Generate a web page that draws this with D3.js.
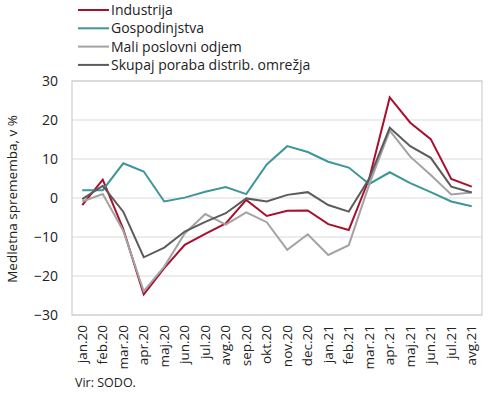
<!DOCTYPE html>
<html><head><meta charset="utf-8">
<script src="https://cdn.jsdelivr.net/npm/d3@7"></script>
<style>body{margin:0;background:#fff}svg{display:block}text{font-family:"Open Sans",sans-serif;fill:#222}</style>
</head><body>
<svg id="c" width="490" height="396"></svg>
<script>
const categories = ["jan.20","feb.20","mar.20","apr.20","maj.20","jun.20","jul.20","avg.20","sep.20","okt.20","nov.20","dec.20","jan.21","feb.21","mar.21","apr.21","maj.21","jun.21","jul.21","avg.21"];
const industrija    = [-1.8, 4.7, -8.0, -24.7, -18.0, -12.0, -9.2, -6.5, -0.5, -4.6, -3.3, -3.2, -6.7, -8.2, 5.0, 25.8, 19.3, 15.1, 4.9, 2.9];
const gospodinjstva = [2.0, 2.0, 8.9, 6.8, -0.9, 0.1, 1.6, 2.8, 1.0, 8.6, 13.3, 11.8, 9.3, 7.8, 3.6, 6.6, 3.8, 1.5, -0.9, -2.1];
const maliOdjem     = [-0.9, 1.0, -8.4, -23.9, -17.6, -9.1, -4.1, -6.8, -3.7, -6.2, -13.3, -9.3, -14.6, -12.1, 3.5, 17.3, 10.6, 5.9, 0.9, 1.4];
const skupaj        = [-0.3, 3.1, -3.5, -15.2, -12.7, -8.6, -6.1, -3.9, -0.1, -0.9, 0.8, 1.5, -1.8, -3.5, 5.0, 18.0, 13.3, 10.3, 2.9, 1.4];
const yTicks = [-30, -20, -10, 0, 10, 20, 30];
const seriesNames = ["Industrija", "Gospodinjstva", "Mali poslovni odjem", "Skupaj poraba distrib. omrežja"];
const seriesColors = ["#a8102f", "#3d9698", "#a3a3a3", "#5b5b5b"];
const seriesValues = [industrija, gospodinjstva, maliOdjem, skupaj];

const svg = d3.select("#c");
const L = 72, R = 482, T = 81, B = 315;
const x = d3.scaleBand().domain(categories).range([L, R]);
const y = d3.scaleLinear().domain([-30, 30]).range([B, T]);

svg.append("g").selectAll("line").data(yTicks).join("line")
  .attr("x1", L).attr("x2", R).attr("y1", d => y(d)).attr("y2", d => y(d))
  .attr("stroke", "#d9d9d9").attr("stroke-width", 1.2);
svg.append("rect").attr("x", L).attr("y", T).attr("width", R - L).attr("height", B - T)
  .attr("fill", "none").attr("stroke", "#cfcfcf").attr("stroke-width", 1.2);

const ya = svg.append("g").attr("transform", `translate(${L},0)`)
  .call(d3.axisLeft(y).tickValues(yTicks).tickSize(0).tickPadding(14));
ya.select(".domain").remove();
ya.selectAll("text").style("font-size", "14px").style("font-family", '"Open Sans",sans-serif').attr("fill", "#222");

const xa = svg.append("g").attr("transform", `translate(0,${B})`)
  .call(d3.axisBottom(x).tickSize(0));
xa.select(".domain").remove();
xa.selectAll("text").style("font-size", "13.5px").style("font-family", '"Open Sans",sans-serif').attr("fill", "#222")
  .attr("text-anchor", "end").attr("transform", "rotate(-90)").attr("x", -10).attr("y", 0).attr("dy", "0.35em");

svg.append("text").attr("transform", `translate(17,${(T + B) / 2 + 1}) rotate(-90)`)
  .attr("text-anchor", "middle").style("font-size", "13.5px").text("Medletna sprememba, v %");

const line = d3.line().x((d, i) => x(categories[i]) + x.bandwidth() / 2).y(d => y(d));
seriesValues.forEach((vals, k) => {
  svg.append("path").datum(vals).attr("d", line).attr("fill", "none")
    .attr("stroke", seriesColors[k]).attr("stroke-width", 2).attr("stroke-linejoin", "miter");
});

const lg = svg.append("g");
seriesNames.forEach((n, k) => {
  const yy = 10 + k * 18.3;
  lg.append("line").attr("x1", 78).attr("x2", 109).attr("y1", yy).attr("y2", yy)
    .attr("stroke", seriesColors[k]).attr("stroke-width", 2);
  lg.append("text").attr("x", 111).attr("y", yy).attr("dy", "0.35em").style("font-size", "14px").text(n);
});

svg.append("text").attr("x", 75).attr("y", 387).style("font-size", "12.5px").text("Vir: SODO.");
</script>
</body></html>
